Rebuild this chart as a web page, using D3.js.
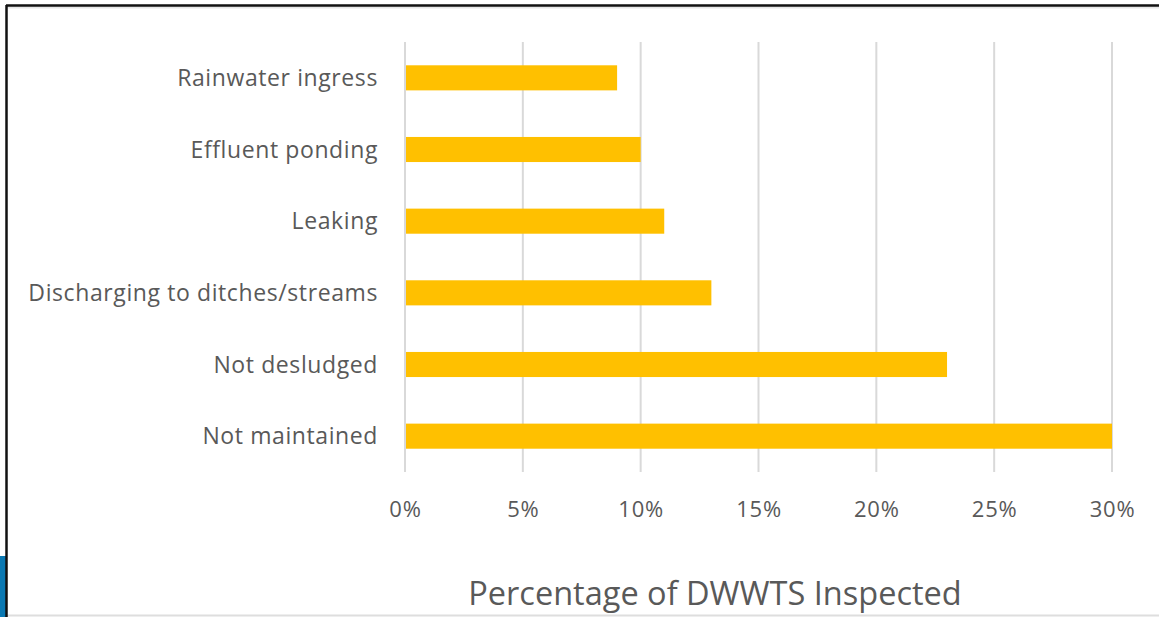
<!DOCTYPE html>
<html>
<head>
  <meta charset="UTF-8">
  <style>
    body {
        margin: 0;
        background-color: white;
    }
    svg {
        display: block;
        font-family: "Open Sans", Lato, sans-serif;
    }
  </style>
</head>

<body>
<svg></svg>
<script src="https://d3js.org/d3.v7.min.js"></script>

<script>

let width = 1159, height = 617;

// data, top row first
const categories = ["Rainwater ingress", "Effluent ponding", "Leaking",
                    "Discharging to ditches/streams", "Not desludged", "Not maintained"];
const values = [9, 10, 11, 13, 23, 30];
const tickValues = [0, 5, 10, 15, 20, 25, 30];
const axisTitle = "Percentage of DWWTS Inspected";

let svg = d3.select("svg")
    .attr("width", width)
    .attr("height", height);

// frame bits from the screenshot (blue patch, black border, grey edges)
svg.append("rect")
    .attr("x", 0).attr("y", 556).attr("width", 6).attr("height", 61)
    .attr("fill", "#0a78b2");
svg.append("line")
    .attr("x1", 7).attr("x2", width).attr("y1", 7.5).attr("y2", 7.5)
    .attr("stroke", "#e6e6e6").attr("stroke-width", 2);
svg.append("line")
    .attr("x1", 7).attr("x2", width).attr("y1", 615.5).attr("y2", 615.5)
    .attr("stroke", "#dedede").attr("stroke-width", 2);
svg.append("line")
    .attr("x1", 6).attr("x2", width).attr("y1", 5.5).attr("y2", 5.5)
    .attr("stroke", "#111").attr("stroke-width", 2.5);
svg.append("line")
    .attr("x1", 6.5).attr("x2", 6.5).attr("y1", 5).attr("y2", height)
    .attr("stroke", "#111").attr("stroke-width", 2.5);

// scales
let x = d3.scaleLinear()
    .domain([0, 30])
    .range([405, 1112]);

let y = d3.scaleBand()
    .domain(categories)
    .range([42, 472])
    .paddingInner(0.65)
    .paddingOuter(0.325);

// gridlines
svg.append("g")
    .selectAll("line")
    .data(tickValues)
    .enter()
    .append("line")
    .attr("x1", d => x(d))
    .attr("x2", d => x(d))
    .attr("y1", 42)
    .attr("y2", 472)
    .attr("stroke", "#d9d9d9")
    .attr("stroke-width", 2);

// bars
svg.append("g")
    .selectAll("rect")
    .data(categories)
    .enter()
    .append("rect")
    .attr("x", x(0) + 1)
    .attr("y", d => y(d))
    .attr("width", (d, i) => x(values[i]) - x(0) - 1)
    .attr("height", y.bandwidth())
    .attr("fill", "#ffc000");

// category labels
svg.append("g")
    .selectAll("text")
    .data(categories)
    .enter()
    .append("text")
    .attr("x", 378)
    .attr("y", d => y(d) + y.bandwidth() / 2)
    .attr("dy", "0.35em")
    .attr("text-anchor", "end")
    .attr("fill", "#595959")
    .style("font-size", "23px")
    .style("letter-spacing", "0.6px")
    .text(d => d);

// x axis tick labels
let xAxis = d3.axisBottom(x)
    .tickValues(tickValues)
    .tickSize(0)
    .tickPadding(0)
    .tickFormat(d => d + "%");

svg.append("g")
    .attr("transform", "translate(0,501)")
    .call(xAxis)
    .call(g => g.select(".domain").remove())
    .selectAll("text")
    .attr("fill", "#595959")
    .style("font-size", "22px")
    .style("letter-spacing", "0.8px")
    .style("font-family", "\"Open Sans\", Lato, sans-serif");

// axis title
svg.append("text")
    .attr("x", 715)
    .attr("y", 605)
    .attr("text-anchor", "middle")
    .attr("fill", "#595959")
    .style("font-size", "32.5px")
    .text(axisTitle);

</script>

</body>
</html>
